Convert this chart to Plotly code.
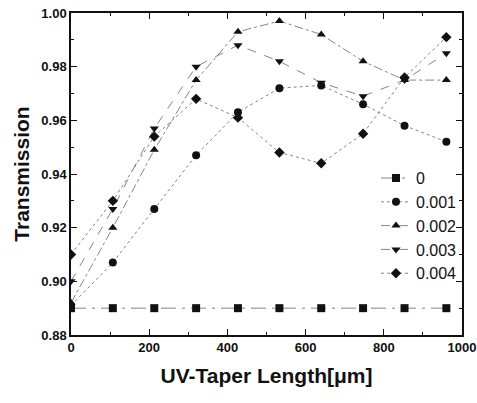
import plotly.graph_objects as go

x_vals = [0, 107, 213, 320, 427, 533, 640, 747, 853, 960]
series_names = ["0", "0.001", "0.002", "0.003", "0.004"]
s0 = [0.890, 0.890, 0.890, 0.890, 0.890, 0.890, 0.890, 0.890, 0.890, 0.890]
s1 = [0.891, 0.907, 0.927, 0.947, 0.963, 0.972, 0.973, 0.966, 0.958, 0.952]
s2 = [0.892, 0.920, 0.949, 0.975, 0.993, 0.997, 0.992, 0.982, 0.975, 0.975]
s3 = [0.900, 0.927, 0.957, 0.980, 0.988, 0.982, 0.974, 0.969, 0.975, 0.985]
s4 = [0.910, 0.930, 0.954, 0.968, 0.961, 0.948, 0.944, 0.955, 0.976, 0.991]
series_vals = [s0, s1, s2, s3, s4]

symbols = ["square", "circle", "triangle-up", "triangle-down", "diamond"]
dashes = ["longdashdot", "dot", "dashdot", "dash", "dot"]

fig = go.Figure()
for name, vals, sym, dsh in zip(series_names, series_vals, symbols, dashes):
    fig.add_trace(go.Scatter(
        x=x_vals, y=vals, name=name, mode="lines+markers",
        line=dict(color="#666666", width=0.8, dash=dsh),
        marker=dict(symbol=sym, size=8, color="#111111"),
    ))

axis_common = dict(
    showline=True, linecolor="#111111", linewidth=1.5, mirror="ticks",
    ticks="inside", ticklen=6, tickwidth=1.2, tickcolor="#111111",
    showgrid=False, zeroline=False, automargin=False,
    tickfont=dict(family="Liberation Sans", size=13, color="#111111", weight="bold"),
    title_font=dict(family="Liberation Sans", size=21, color="#111111", weight="bold"),
)

fig.update_xaxes(range=[0, 1000], dtick=200,
                 minor=dict(ticks="inside", ticklen=3, dtick=100, tickcolor="#111111"),
                 title_text="UV-Taper Length[μm]", title_standoff=14, **axis_common)
fig.update_yaxes(range=[0.88, 1.00], dtick=0.02, tickformat=".2f",
                 minor=dict(ticks="inside", ticklen=3, dtick=0.01, tickcolor="#111111"),
                 title_text="Transmission", title_standoff=6, **axis_common)

fig.update_layout(
    width=477, height=403,
    margin=dict(l=71, r=15, t=13, b=68),
    plot_bgcolor="white", paper_bgcolor="white",
    showlegend=True,
    legend=dict(x=0.78, y=0.54, xanchor="left", yanchor="top",
                bgcolor="rgba(0,0,0,0)", borderwidth=0,
                font=dict(family="Liberation Sans", size=16, color="#111111"),
                tracegroupgap=0, itemwidth=30),
)

fig.write_html("out.html")
